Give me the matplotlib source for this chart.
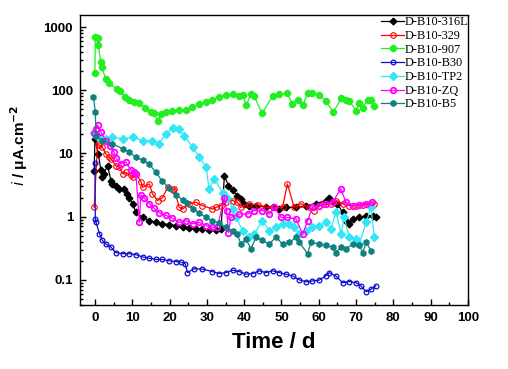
import matplotlib
matplotlib.use("Agg")
import matplotlib.pyplot as plt
from matplotlib.ticker import LogLocator, NullFormatter, FixedLocator, MultipleLocator

# ---------------- data ----------------
t_316L = [-0.2, 0.0, 0.9, 1.6, 2.0, 2.4, 3.4, 4.3, 4.7, 5.6, 6.5, 7.9, 8.7, 9.2, 10.1, 11.0, 12.8, 14.6,
          16.4, 18.1, 19.9, 21.7, 23.5, 25.3, 27.0, 28.8, 30.6, 32.4, 33.8, 34.7, 35.8, 36.9, 38.2, 39.1,
          40.0, 41.4, 43.1, 45.8, 47.6, 49.4, 51.2, 53.9, 56.6, 59.2, 61.9, 62.8, 64.1, 65.0, 66.4, 67.3,
          68.2, 69.1, 70.9, 72.7, 74.5, 75.3]
i_316L = [5.2, 17, 9.9, 5.4, 4.2, 4.8, 6.4, 3.7, 3.3, 3.1, 2.75, 2.75, 2.3, 2.0, 1.6, 1.17, 0.97, 0.86,
          0.81, 0.77, 0.75, 0.72, 0.68, 0.66, 0.64, 0.64, 0.61, 0.61, 0.64, 4.4, 3.1, 2.6, 2.15, 1.9,
          1.6, 1.5, 1.5, 1.44, 1.4, 1.32, 1.4, 1.4, 1.5, 1.6, 1.8, 2.0, 1.69, 1.6, 1.17, 0.86,
          0.77, 0.92, 0.97, 1.04, 1.04, 0.97]

t_329 = [-0.2, 0.7, 1.2, 2.0, 2.9, 3.8, 4.3, 5.6, 6.5, 7.4, 8.3, 9.6, 10.1, 11.0, 12.4, 12.8, 14.6, 15.4,
         16.8, 18.1, 19.5, 20.8, 21.3, 22.6, 23.5, 25.3, 27.0, 28.8, 31.5, 32.4, 33.8, 35.1, 36.9, 38.2,
         39.1, 41.4, 43.6, 45.8, 48.1, 50.3, 51.6, 53.4, 55.2, 57.4, 58.8, 61.0, 63.3, 64.6, 66.4, 68.2,
         70.0, 71.8, 73.6, 74.9]
i_329 = [1.4, 14.2, 13.4, 12.6, 9.9, 8.7, 8.3, 6.4, 6.1, 4.8, 5.0, 4.5, 4.2, 4.8, 3.5, 2.9, 3.3, 2.3,
         1.8, 2.0, 2.9, 2.6, 2.75, 1.4, 1.32, 1.6, 1.69, 1.5, 1.32, 1.4, 1.5, 1.69, 1.8, 1.69,
         1.4, 1.6, 1.55, 1.4, 1.4, 1.4, 3.3, 1.4, 1.6, 1.4, 1.25, 1.6, 1.6, 1.8, 1.6, 1.5,
         1.5, 1.55, 1.6, 1.6]

t_907 = [0.0, 0.1, 0.7, 0.9, 1.6, 1.9, 2.9, 3.8, 6.0, 6.7, 8.1, 9.2, 10.5, 11.9, 13.5, 15.0, 15.9, 16.8,
         17.7, 19.0, 20.7, 22.6, 24.4, 26.1, 27.9, 29.8, 31.5, 33.3, 35.1, 36.9, 38.7, 39.6, 40.6, 41.8,
         42.7, 44.8, 47.6, 49.4, 51.6, 52.8, 54.3, 55.7, 57.0, 58.3, 60.1, 61.9, 63.9, 66.0, 67.3, 68.2,
         70.0, 70.9, 71.8, 73.1, 74.0, 74.9]
i_907 = [187, 690, 660, 515, 280, 230, 148, 128, 104, 98, 78, 69, 65, 63, 53, 45, 43, 33,
         42, 45, 47, 48, 49, 54, 61, 65, 71, 78, 83, 87, 80, 83, 58, 87,
         80, 43, 80, 87, 89, 61, 69, 58, 89, 92, 83, 68, 45, 74, 71, 68,
         47, 63, 53, 71, 69, 56]

t_B30 = [0.0, 0.1, 0.3, 1.2, 2.0, 2.9, 4.3, 5.6, 7.4, 9.2, 11.0, 12.8, 14.6, 16.4, 18.1, 19.9, 21.7, 23.1,
         24.2, 24.8, 26.6, 28.8, 31.5, 33.3, 35.1, 36.9, 38.7, 40.5, 42.3, 44.1, 45.8, 47.6, 49.4, 51.2,
         53.0, 54.8, 56.6, 58.3, 60.1, 61.9, 62.8, 64.6, 66.4, 68.2, 70.0, 71.3, 72.7, 74.0, 75.3]
i_B30 = [7.0, 0.93, 0.81, 0.54, 0.42, 0.37, 0.33, 0.27, 0.26, 0.26, 0.25, 0.23, 0.22, 0.21, 0.21, 0.20, 0.195, 0.19,
         0.18, 0.13, 0.15, 0.148, 0.135, 0.126, 0.13, 0.142, 0.135, 0.123, 0.126, 0.139, 0.13, 0.139, 0.13, 0.123,
         0.115, 0.10, 0.093, 0.096, 0.099, 0.116, 0.13, 0.115, 0.09, 0.094, 0.09, 0.08, 0.065, 0.071, 0.08]

t_TP2 = [-0.2, 0.7, 2.9, 4.7, 7.4, 10.1, 12.8, 15.4, 17.2, 19.0, 20.8, 22.6, 23.9, 26.2, 28.0, 29.8, 30.6,
         32.0, 34.2, 35.5, 36.9, 37.8, 39.6, 41.4, 42.7, 44.9, 46.7, 48.5, 50.3, 52.1, 53.4, 54.8, 56.6,
         58.3, 60.1, 61.9, 63.3, 64.6, 66.0, 66.8, 68.2, 70.0, 70.9, 72.7, 74.0, 74.9]
i_TP2 = [21, 18, 17, 18, 17, 18, 16, 16, 14.2, 20.5, 25, 24, 19, 12.6, 8.7, 6.1, 2.75,
         4.0, 2.4, 2.0, 1.32, 0.97, 0.6, 0.47, 0.53, 0.86, 0.6, 0.68, 0.77, 0.77, 0.68, 0.53, 0.6,
         0.68, 0.72, 0.81, 0.64, 1.2, 0.53, 0.97, 0.47, 0.44, 0.37, 0.81, 1.4, 0.47]

t_ZQ = [-0.2, 0.2, 0.7, 1.6, 2.9, 4.1, 5.1, 5.6, 6.9, 8.3, 9.6, 10.5, 11.0, 11.9, 12.3, 13.2, 14.6, 15.9,
        17.2, 19.0, 20.6, 22.6, 24.4, 26.2, 28.0, 29.8, 31.5, 32.8, 34.7, 35.3, 35.8, 36.4, 38.7, 40.9,
        42.7, 44.9, 46.7, 48.1, 49.9, 51.6, 53.9, 55.7, 57.0, 58.3, 60.1, 61.9, 63.7, 65.9, 67.3, 69.1,
        70.9, 72.7, 74.4]
i_ZQ = [21, 24, 28, 22, 16, 13, 10.5, 8.5, 6.9, 7.3, 5.5, 5.0, 4.8, 0.81, 2.2, 2.0, 1.6, 1.35,
        1.15, 1.05, 0.95, 0.81, 0.86, 0.77, 0.81, 0.72, 0.68, 0.68, 2.0, 1.25, 0.56, 0.97, 1.1, 1.1,
        1.25, 1.25, 1.1, 1.4, 0.97, 0.97, 0.92, 0.53, 0.86, 1.4, 1.5, 1.6, 1.69, 2.75, 1.69, 1.5,
        1.55, 1.6, 1.69]

t_B5 = [-0.4, 0.1, 0.3, 2.0, 4.7, 7.4, 9.2, 11.0, 12.8, 14.6, 16.4, 18.1, 19.9, 21.7, 23.5, 24.8, 26.2,
        28.0, 29.8, 31.5, 33.3, 35.1, 36.9, 38.2, 39.1, 40.5, 41.8, 43.2, 44.9, 46.7, 48.5, 50.3, 52.1,
        53.9, 54.8, 57.0, 57.9, 60.1, 61.9, 63.7, 64.6, 66.0, 67.3, 69.1, 70.9, 71.8, 72.7, 74.0]
i_B5 = [78, 45, 19, 16, 14.2, 11.9, 10.5, 8.7, 7.8, 6.7, 5.0, 3.6, 2.8, 2.2, 1.85, 1.65, 1.3,
        1.15, 0.97, 0.86, 0.8, 0.68, 0.6, 0.53, 0.37, 0.44, 0.31, 0.47, 0.42, 0.37, 0.47, 0.37, 0.39,
        0.47, 0.39, 0.26, 0.39, 0.37, 0.35, 0.33, 0.27, 0.33, 0.31, 0.37, 0.35, 0.27, 0.39, 0.29]

labels = ["D-B10-316L", "D-B10-329", "D-B10-907", "D-B10-B30", "D-B10-TP2", "D-B10-ZQ", "D-B10-B5"]
x_ticks = [0, 10, 20, 30, 40, 50, 60, 70, 80, 90, 100]
y_ticks = [0.1, 1, 10, 100, 1000]
y_ticklabels = ["0.1", "1", "10", "100", "1000"]

# ---------------- plot ----------------
fig = plt.figure(figsize=(5.08, 3.69), dpi=100)
ax = fig.add_axes([80/508, 64/369, 388/508, 290/369])

series = [
    (t_316L, i_316L, dict(color="black", marker="D", ms=3.4, mfc="black", mec="black")),
    (t_329, i_329, dict(color="#ff0000", marker="o", ms=4.0, mfc="none", mec="#ff0000", mew=0.8)),
    (t_907, i_907, dict(color="#22ee22", marker="8", ms=4.8, mfc="#22ee22", mec="#22ee22")),
    (t_B30, i_B30, dict(color="#0a0ad0", marker="o", ms=3.4, mfc="none", mec="#0a0ad0", mew=0.9)),
    (t_TP2, i_TP2, dict(color="#33e6f5", marker="D", ms=4.4, mfc="#33e6f5", mec="#33e6f5")),
    (t_ZQ, i_ZQ, dict(color="#ff00ff", marker="o", ms=4.0, mfc="none", mec="#ff00ff", mew=1.3)),
    (t_B5, i_B5, dict(color="#0f7f7f", marker="h", ms=4.0, mfc="#0f7f7f", mec="#0f7f7f")),
]
for (tx, iy, st), lab in zip(series, labels):
    ax.plot(tx, iy, lw=0.9, label=lab, **st)

ax.set_yscale("log")
ax.set_xlim(-4, 100)
ax.set_ylim(0.04, 1550)

ax.xaxis.set_major_locator(FixedLocator(x_ticks))
ax.xaxis.set_minor_locator(MultipleLocator(5))
ax.set_xticklabels([str(v) for v in x_ticks])
ax.yaxis.set_major_locator(FixedLocator(y_ticks))
ax.set_yticklabels(y_ticklabels)
ax.yaxis.set_minor_locator(LogLocator(base=10, subs=range(2, 10), numticks=20))
ax.yaxis.set_minor_formatter(NullFormatter())

ax.tick_params(which="both", direction="in", top=False, right=False, width=1.0)
ax.tick_params(which="major", length=4, labelsize=9.5, pad=5)
ax.tick_params(which="minor", length=2)
for lab in ax.get_xticklabels() + ax.get_yticklabels():
    lab.set_fontweight("bold")
    lab.set_fontfamily("Liberation Sans")
for sp in ax.spines.values():
    sp.set_linewidth(1.0)

ax.set_xlabel("Time / d", fontsize=16, fontweight="bold", family="Liberation Sans", labelpad=6)
ax.set_ylabel(r"$\mathbf{\it{i}}$ / μA.cm$^{\mathbf{-2}}$", fontsize=11, fontweight="bold",
              family="Liberation Sans")
ax.yaxis.set_label_coords(-0.13, 0.55)

leg = ax.legend(loc="upper right", bbox_to_anchor=(1.005, 1.0), frameon=False,
                prop={"family": "Liberation Serif", "size": 8.8}, handlelength=1.9,
                handletextpad=0.05, labelspacing=0.14, borderpad=0.1, borderaxespad=0.0)

fig.savefig("out.png", dpi=100)
